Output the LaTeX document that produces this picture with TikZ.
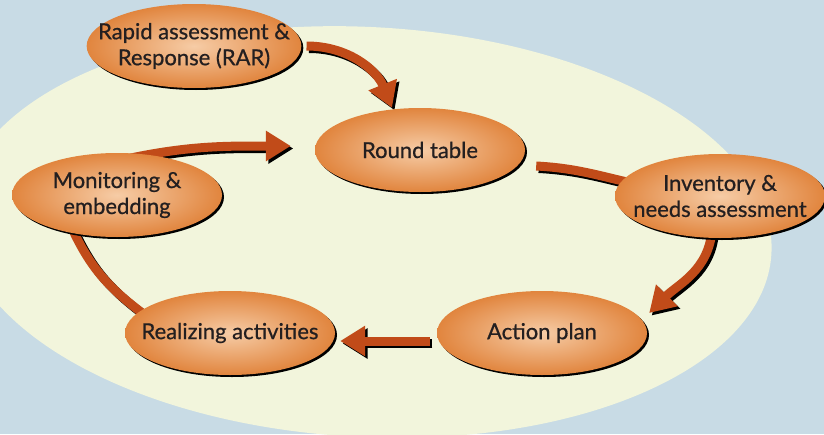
\documentclass[tikz,border=0pt]{standalone}
\usepackage{fontspec}
\setmainfont{Lato}
\newfontfamily\stepfont{Lato}[FakeBold=0.7]
\usetikzlibrary{shapes.geometric,arrows.meta,shadows,backgrounds}

\definecolor{bgblue}{RGB}{200,219,229}
\definecolor{cream}{RGB}{242,245,220}
\definecolor{stepedge}{RGB}{225,133,62}
\definecolor{steplight}{RGB}{246,204,166}
\definecolor{flowred}{RGB}{193,75,25}
\definecolor{ink}{RGB}{35,31,32}

\begin{document}
\begin{tikzpicture}
    [
      x = 1pt, y = -1pt,
      stepnode/.style = {ellipse, inner color=steplight, outer color=stepedge,
          minimum width=210pt, minimum height=84pt, inner xsep=-20pt, inner ysep=0pt,
          align=center, text=ink, font=\stepfont\fontsize{22}{26}\selectfont,
          drop shadow={shadow xshift=2pt, shadow yshift=-2pt, fill=black, opacity=1}},
      flowband/.style = {draw=#1, line width=9pt},
      flow/.style = {flowband=#1, -{Triangle[length=25pt,width=29pt]}},
    ]

    \useasboundingbox (0,0) rectangle (824,434);

    \node[stepnode] (rar) at (194,46) {Rapid assessment \&\\Response (RAR)};
    \node[stepnode] (round) at (420,150) {Round table};
    \node[stepnode] (inv) at (720,196) {Inventory \&\\needs assessment};
    \node[stepnode] (act) at (542,333) {Action plan};
    \node[stepnode] (real) at (230,333) {Realizing activities};
    \node[stepnode] (mon) at (117,195) {Monitoring \&\\embedding};

    \begin{scope}[on background layer]
      \clip (0,0) rectangle (824,434);
      \fill[bgblue] (0,0) rectangle (824,434);
      \fill[cream, rotate around={-3:(366,232)}] (366,232) ellipse [x radius=406pt, y radius=205pt];

      % the cycle, shadow first
      \foreach \col/\off in {black/2.5, flowred/0} {
        \begin{scope}[transform canvas={shift={(\off pt,-\off pt)}}]
          \draw[flow=\col] ([xshift=5pt]rar.east) to[out=0, in=112] ([xshift=-28pt]round.north);
          \draw[flowband=\col] ([xshift=11pt,yshift=-16pt]round.east) to[out=-3, in=168] ([xshift=30pt,yshift=10pt]inv.west);
          \draw[flow=\col] ([xshift=-8pt,yshift=8pt]inv.south) to[out=-95, in=45] ([xshift=2pt,yshift=20pt]act.east);
          \draw[flow=\col] ([xshift=-7pt,yshift=-8pt]act.west) -- ([xshift=5pt,yshift=-8pt]real.east);
          \draw[flowband=\col] ([xshift=-88pt,yshift=-22pt]real.north) to[out=143, in=-65] ([xshift=-45pt,yshift=9pt]mon.south);
          \draw[flow=\col] ([xshift=10pt,yshift=-6pt]mon.north) to[out=12, in=180] ([xshift=-24pt,yshift=4pt]round.west);
        \end{scope}
      }
    \end{scope}

  \end{tikzpicture}
\end{document}
